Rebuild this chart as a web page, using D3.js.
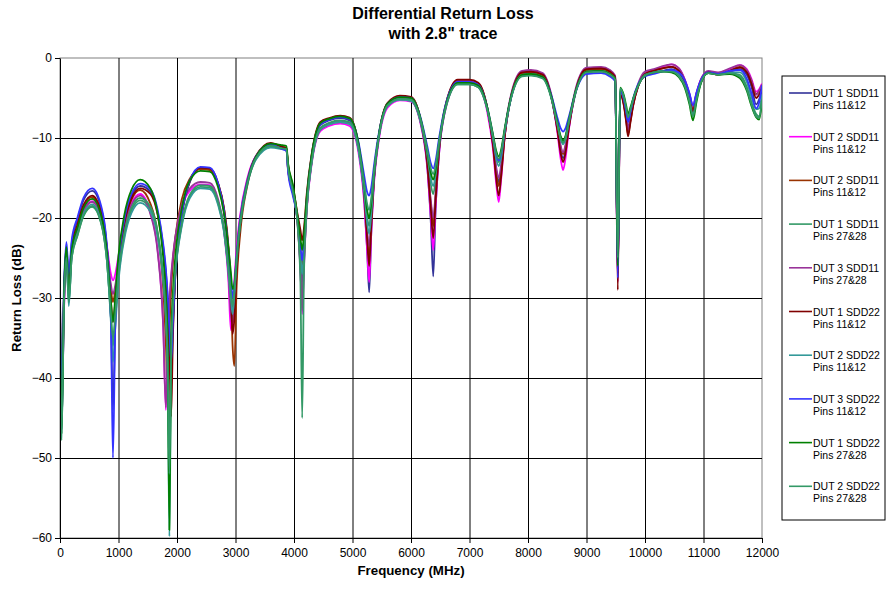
<!DOCTYPE html>
<html>
<head>
<meta charset="utf-8">
<script src="https://cdn.jsdelivr.net/npm/d3@7"></script>
<style>
  body { margin: 0; background: #fff; }
  svg { font-family: Arial, 'Liberation Sans', sans-serif; }
  .axis text { font-size: 12px; fill: #000; }
  .axis line, .axis path { stroke: #000; }
  .grid line { stroke: #000; stroke-width: 1; }
  .grid path { display: none; }
</style>
</head>
<body>
<div id="chart"></div>
<script>
const freqMHz = [
  0, 25, 70, 110, 150, 200, 300, 400, 550, 700, 800, 870, 905,
  945, 1000, 1100, 1220, 1370, 1545, 1670,
  1765, 1810, 1840, 1870, 1900, 1930, 1970, 2080,
  2220, 2400, 2560, 2700, 2800, 2880, 2920, 2950, 2980, 3020, 3080, 3200, 3350, 3600, 3800, 3870,
  3900, 3980, 4060, 4110, 4140,
  4170, 4220, 4300, 4450, 4600, 4790, 4950, 5100, 5200, 5250, 5285,
  5320, 5370, 5450, 5600, 5810, 6000, 6150, 6280, 6340, 6380,
  6420, 6480, 6600, 6800, 7000, 7150, 7300, 7400, 7460, 7500,
  7540, 7600, 7720, 7900, 8050, 8250, 8400, 8500, 8560, 8600,
  8640, 8700, 8820, 9000, 9250, 9400, 9490, 9535,
  9575, 9640, 9680, 9710, 9750, 9800, 9880, 10000,
  10150, 10300, 10450, 10580, 10680, 10760, 10820, 10880, 10960, 11080, 11250, 11450, 11620, 11740, 11820, 11900, 11950, 12000,
];

const dut1Sdd11Pins1112 = [
  -30, -44, -29, -23.5, -28, -23.2, -20.2, -17.8, -16.6, -18.7, -23.6, -32.6, -44,
  -33.2, -26.2, -20.5, -17.3, -16.0, -16.7, -19.3,
  -23.6, -26.8, -30.0, -34.9, -40, -33.7, -27.4, -19.8,
  -15.5, -13.8, -13.9, -15.8, -19.1, -24.5, -28.5, -33, -30.2, -25.2, -20.5, -15.5, -12.3, -10.8, -11.2, -11.4,
  -14.0, -16.6, -20.3, -25.0, -28,
  -24.4, -18.0, -12.6, -8.4, -7.8, -7.5, -7.8, -11.1, -17.6, -24.0, -29.3,
  -22.0, -15.1, -9.9, -5.8, -4.9, -5.05, -7.5, -13.7, -20.7, -27.3,
  -19.1, -11.9, -5.95, -3.0, -3.0, -3.4, -6.3, -10.6, -14.2, -15.5,
  -13.9, -9.8, -4.7, -2.0, -1.9, -2.28, -5.03, -8.87, -11.65, -12.5,
  -11.6, -8.7, -4.2, -1.7, -1.6, -2.0, -2.6, -27,
  -4.3, -5.6, -7.3, -8.8, -7.4, -5.6, -3.6, -2.2,
  -1.8, -1.6, -1.4, -1.9, -3.0, -4.7, -6.3, -4.6, -2.8, -1.8, -2.0, -1.7, -1.4, -2.1, -3.6, -5.8, -5.2, -4.0,
];

const dut2Sdd11Pins1112a = [
  -33, -46.5, -31, -25, -29, -24.5, -21.5, -19.1, -17.9, -19.7, -23.4, -27.0, -27.8,
  -27.0, -24.7, -20.9, -18.2, -17.0, -19.3, -24.1,
  -33.6, -44, -36.2, -30.8, -27.5, -25.1, -22.7, -18.7,
  -16.6, -15.8, -15.9, -17.9, -21.5, -28.0, -34.0, -32.4, -27.9, -23.7, -19.6, -15.1, -12.25, -11.0, -11.3, -11.4,
  -14.2, -16.9, -20.6, -26.5, -32,
  -26.2, -18.9, -13.4, -9.15, -8.5, -8.2, -8.5, -11.75, -18.1, -24.0, -28,
  -22.0, -15.45, -10.3, -6.2, -5.3, -5.45, -7.8, -13.9, -20.0, -24,
  -18.6, -11.95, -6.1, -3.2, -3.2, -3.6, -6.6, -11.3, -15.95, -18,
  -15.25, -10.0, -4.46, -1.7, -1.6, -1.98, -4.88, -9.16, -12.7, -14,
  -12.6, -8.9, -3.9, -1.3, -1.2, -1.6, -2.3, -28,
  -4.5, -5.8, -7.7, -9.3, -7.8, -5.8, -3.5, -1.9,
  -1.5, -1.1, -0.8, -1.3, -2.7, -4.5, -6.0, -4.4, -2.6, -1.7, -1.9, -1.4, -0.9, -1.4, -2.6, -4.2, -3.9, -3.2,
];

const dut2Sdd11Pins1112b = [
  -30, -44, -29.5, -24.5, -28.5, -23.8, -21.0, -18.6, -17.4, -19.35, -23.6, -28.9, -30.5,
  -29.0, -25.4, -20.7, -17.75, -16.5, -18.2, -22.0,
  -28.9, -35.8, -42, -34.2, -28.9, -25.5, -22.5, -17.7,
  -15.1, -13.9, -14.0, -15.7, -18.6, -23.5, -28.5, -35.9, -38.5, -28.4, -22.0, -16.0, -12.5, -10.7, -11.1, -11.3,
  -13.6, -16.2, -20.0, -24.0, -26,
  -23.3, -17.5, -12.35, -8.2, -7.6, -7.3, -7.55, -10.8, -17.0, -22.1, -25,
  -20.8, -14.8, -9.7, -5.7, -4.8, -4.95, -7.26, -13.15, -18.3, -21,
  -17.3, -11.4, -5.7, -2.8, -2.8, -3.2, -6.13, -10.6, -14.5, -16,
  -14.2, -9.8, -4.6, -1.9, -1.8, -2.17, -4.89, -8.6, -11.2, -12,
  -11.1, -8.4, -4.0, -1.5, -1.4, -1.8, -2.4, -27,
  -4.4, -5.9, -7.9, -9.5, -7.9, -5.8, -3.6, -2.0,
  -1.6, -1.3, -1.1, -1.6, -2.9, -4.8, -6.4, -4.6, -2.7, -1.8, -2.0, -1.6, -1.1, -1.6, -2.9, -4.5, -4.2, -3.5,
];

const dut1Sdd11Pins2728 = [
  -32, -47, -30, -24.5, -30.5, -25, -22.1, -19.7, -18.5, -20.5, -25.2, -32.4, -36,
  -32.7, -27.4, -22.2, -19.1, -17.8, -18.9, -22.1,
  -27.6, -32.3, -38.3, -50, -37.2, -31.3, -26.9, -20.9,
  -17.3, -16.1, -16.2, -18.1, -21.4, -26.6, -30.4, -33.0, -30.3, -25.5, -20.8, -15.8, -12.6, -11.1, -11.3, -11.5,
  -14.0, -16.8, -20.5, -26.0, -30,
  -25.4, -18.6, -13.2, -8.95, -8.3, -8.0, -8.25, -11.3, -16.6, -19.9, -21,
  -19.0, -14.5, -9.9, -5.96, -5.2, -5.35, -7.6, -12.6, -15.9, -17,
  -15.3, -11.2, -6.1, -3.3, -3.3, -3.67, -6.3, -9.9, -12.3, -13,
  -12.1, -9.2, -4.7, -2.2, -2.1, -2.46, -4.96, -8.1, -10.0, -10.5,
  -9.9, -7.9, -4.1, -1.8, -1.7, -2.1, -2.7, -25.5,
  -3.9, -5.0, -6.5, -7.6, -6.6, -5.2, -3.5, -2.1,
  -1.8, -1.6, -1.6, -2.1, -3.3, -5.2, -7.0, -5.0, -3.0, -1.9, -2.0, -1.9, -2.1, -3.6, -5.5, -7.0, -7.3, -5.0,
];

const dut3Sdd11Pins2728 = [
  -34, -45, -31, -25.5, -29.5, -24.6, -21.6, -19.2, -18.0, -19.9, -23.9, -28.3, -29.5,
  -28.4, -25.5, -21.2, -18.4, -17.2, -19.5, -24.3,
  -33.7, -43.7, -35.9, -30.5, -27.2, -24.8, -22.4, -18.4,
  -16.3, -15.5, -15.6, -17.6, -21.2, -27.2, -32.0, -33.5, -29.2, -24.4, -20.0, -15.3, -12.3, -10.9, -11.3, -11.4,
  -14.1, -16.8, -20.6, -26.5, -31.5,
  -25.8, -18.6, -13.1, -8.85, -8.2, -7.9, -8.15, -11.3, -17.25, -21.6, -23.5,
  -20.3, -14.9, -9.95, -6.0, -5.1, -5.25, -7.6, -13.25, -17.9, -20,
  -16.9, -11.4, -5.75, -2.9, -2.9, -3.3, -6.16, -10.4, -13.8, -15,
  -13.4, -9.35, -4.27, -1.6, -1.5, -1.88, -4.6, -8.34, -11.0, -11.8,
  -10.9, -8.1, -3.7, -1.2, -1.1, -1.5, -2.2, -27.5,
  -4.4, -5.7, -7.5, -9.0, -7.5, -5.5, -3.3, -1.7,
  -1.4, -1.0, -0.8, -1.3, -2.7, -4.5, -6.1, -4.4, -2.6, -1.6, -1.8, -1.3, -0.9, -1.5, -2.8, -4.6, -4.1, -3.3,
];

const dut1Sdd22Pins1112 = [
  -30, -44, -29, -24, -28, -23.8, -20.8, -18.4, -17.2, -19.2, -23.8, -30.3, -33,
  -30.5, -25.7, -20.7, -17.6, -16.3, -17.0, -19.6,
  -24.0, -27.3, -30.8, -36.8, -44.8, -34.8, -27.5, -19.7,
  -15.4, -13.7, -13.8, -15.6, -18.7, -24.0, -28.8, -34.5, -32.7, -26.5, -21.0, -15.6, -12.25, -10.6, -11.1, -11.3,
  -13.4, -16.0, -19.5, -21.5, -22.8,
  -21.3, -16.8, -12.1, -8.0, -7.5, -7.2, -7.45, -10.7, -17.0, -22.6, -26,
  -21.0, -14.8, -9.7, -5.6, -4.7, -4.85, -7.27, -13.3, -19.0, -22.5,
  -17.8, -11.4, -5.6, -2.7, -2.7, -3.1, -6.1, -10.8, -15.3, -17.2,
  -14.9, -9.95, -4.53, -1.8, -1.7, -2.08, -4.9, -8.9, -12.0, -13,
  -11.9, -8.65, -4.0, -1.4, -1.3, -1.7, -2.4, -29,
  -4.6, -6.0, -8.1, -9.8, -8.1, -5.9, -3.6, -2.0,
  -1.6, -1.3, -1.1, -1.6, -3.0, -5.0, -6.7, -4.8, -2.8, -1.8, -2.1, -1.6, -1.2, -1.8, -3.2, -5.0, -4.6, -3.8,
];

const dut2Sdd22Pins1112 = [
  -31, -47.5, -30, -24.5, -31, -24.8, -21.9, -19.5, -18.3, -20.4, -25.1, -33.0, -38,
  -33.7, -27.9, -22.6, -19.4, -18.1, -19.2, -22.4,
  -27.9, -32.6, -38.6, -59.8, -37.4, -31.5, -27.1, -21.1,
  -17.5, -16.3, -16.4, -18.3, -21.6, -26.8, -30.0, -32.0, -29.8, -25.4, -20.8, -15.9, -12.7, -11.2, -11.4, -11.5,
  -14.0, -16.7, -20.2, -24.5, -27,
  -24.1, -18.3, -13.1, -8.9, -8.3, -8.0, -8.25, -11.4, -16.9, -20.6, -22,
  -19.55, -14.7, -9.9, -6.0, -5.2, -5.35, -7.55, -12.2, -15.1, -16,
  -14.6, -10.9, -5.9, -3.2, -3.2, -3.6, -6.3, -10.0, -12.7, -13.5,
  -12.5, -9.3, -4.66, -2.1, -2.0, -2.37, -4.9, -8.2, -10.2, -10.8,
  -10.2, -8.0, -4.1, -1.7, -1.6, -2.0, -2.6, -26,
  -3.9, -5.1, -6.6, -7.8, -6.7, -5.2, -3.5, -2.1,
  -1.8, -1.6, -1.6, -2.2, -3.4, -5.3, -7.2, -5.1, -3.0, -1.9, -2.0, -1.8, -1.8, -3.0, -4.9, -6.4, -6.3, -4.6,
];

const dut3Sdd22Pins1112 = [
  -29, -42, -28, -23, -27, -22.8, -19.9, -17.5, -16.3, -18.4, -23.3, -32.5, -50,
  -33.3, -25.9, -20.2, -17.0, -15.7, -16.4, -19.0,
  -23.3, -26.4, -29.5, -34.0, -38, -33.0, -27.0, -19.6,
  -15.3, -13.6, -13.7, -15.6, -18.9, -24.0, -27.6, -30.0, -28.3, -24.6, -20.2, -15.5, -12.3, -10.8, -11.4, -11.6,
  -14.3, -17.2, -20.0, -23.5, -25.3,
  -22.9, -17.5, -12.4, -8.3, -7.7, -7.4, -7.6, -10.4, -14.7, -16.75, -17.2,
  -16.2, -13.3, -9.4, -5.74, -4.9, -5.0, -7.1, -11.1, -13.2, -13.8,
  -12.9, -10.0, -5.6, -3.0, -3.0, -3.35, -6.05, -9.6, -12.1, -12.8,
  -11.9, -9.1, -4.7, -2.2, -2.1, -2.43, -4.7, -7.4, -8.8, -9.2,
  -8.8, -7.3, -4.1, -2.0, -1.9, -2.3, -2.9, -27.5,
  -4.1, -5.2, -6.8, -8.0, -6.8, -5.0, -3.3, -2.3,
  -2.0, -1.7, -1.5, -1.8, -2.8, -4.4, -5.9, -4.3, -2.7, -1.8, -2.0, -1.6, -1.5, -2.6, -4.4, -6.3, -5.6, -3.4,
];

const dut1Sdd22Pins2728 = [
  -31, -47, -29, -23.6, -29.5, -24, -21.2, -18.8, -17.6, -19.6, -24.1, -30.5, -33,
  -29.9, -24.7, -19.6, -16.5, -15.2, -16.3, -19.5,
  -25.0, -29.7, -35.7, -59, -35.2, -29.3, -24.9, -18.9,
  -15.3, -14.1, -14.2, -16.1, -19.3, -23.8, -26.7, -28.9, -28.3, -25.0, -20.6, -15.7, -12.35, -10.7, -10.9, -11.0,
  -13.2, -15.8, -19.8, -22.5, -24,
  -22.1, -17.2, -12.25, -8.15, -7.6, -7.3, -7.55, -10.6, -15.8, -19.0, -20,
  -18.2, -14.15, -9.6, -5.7, -4.9, -5.0, -7.2, -11.7, -14.4, -15.2,
  -14.0, -10.6, -5.8, -3.1, -3.1, -3.45, -6.07, -9.5, -11.7, -12.3,
  -11.5, -8.85, -4.57, -2.1, -2.0, -2.35, -4.84, -7.94, -9.8, -10.3,
  -9.75, -7.75, -4.0, -1.7, -1.6, -2.0, -2.6, -26,
  -3.7, -4.7, -6.0, -7.0, -6.2, -5.0, -3.5, -2.2,
  -1.8, -1.7, -1.8, -2.4, -3.7, -5.8, -7.8, -5.5, -3.1, -1.9, -2.1, -2.0, -2.5, -4.1, -6.0, -7.4, -7.7, -5.5,
];

const dut2Sdd22Pins2728 = [
  -32, -47.8, -30, -25, -30.5, -25, -22.2, -19.8, -18.6, -20.6, -25.2, -32.0, -35,
  -32.1, -27.0, -21.9, -18.8, -17.5, -18.6, -21.8,
  -27.3, -32.0, -38.0, -52, -37.0, -31.1, -26.7, -20.7,
  -17.1, -15.9, -16.0, -17.9, -21.1, -26.3, -29.3, -31.0, -29.1, -25.0, -20.6, -15.7, -12.5, -11.0, -11.3, -11.4,
  -13.8, -16.6, -20.8, -28.0, -45,
  -27.1, -18.7, -13.05, -8.75, -8.1, -7.8, -8.0, -10.95, -15.75, -18.25, -19,
  -17.6, -14.0, -9.75, -5.9, -5.1, -5.2, -7.34, -11.55, -13.85, -14.5,
  -13.5, -10.5, -5.95, -3.3, -3.3, -3.65, -6.28, -9.7, -12.0, -12.6,
  -11.8, -9.1, -4.78, -2.3, -2.2, -2.56, -5.06, -8.2, -10.1, -10.6,
  -10.0, -7.9, -4.15, -1.8, -1.7, -2.1, -2.7, -25,
  -3.8, -4.9, -6.3, -7.4, -6.5, -5.1, -3.5, -2.2,
  -1.8, -1.7, -1.7, -2.3, -3.5, -5.5, -7.3, -5.2, -3.0, -1.9, -2.1, -1.9, -2.3, -3.9, -5.8, -7.3, -7.5, -5.2,
];

const seriesLabels = [
  ['DUT 1 SDD11', 'Pins 11&12'],
  ['DUT 2 SDD11', 'Pins 11&12'],
  ['DUT 2 SDD11', 'Pins 11&12'],
  ['DUT 1 SDD11', 'Pins 27&28'],
  ['DUT 3 SDD11', 'Pins 27&28'],
  ['DUT 1 SDD22', 'Pins 11&12'],
  ['DUT 2 SDD22', 'Pins 11&12'],
  ['DUT 3 SDD22', 'Pins 11&12'],
  ['DUT 1 SDD22', 'Pins 27&28'],
  ['DUT 2 SDD22', 'Pins 27&28'],
];
const seriesValues = [
  dut1Sdd11Pins1112, dut2Sdd11Pins1112a, dut2Sdd11Pins1112b, dut1Sdd11Pins2728, dut3Sdd11Pins2728,
  dut1Sdd22Pins1112, dut2Sdd22Pins1112, dut3Sdd22Pins1112, dut1Sdd22Pins2728, dut2Sdd22Pins2728,
];
const xTicks = [0, 1000, 2000, 3000, 4000, 5000, 6000, 7000, 8000, 9000, 10000, 11000, 12000];
const yTicks = [-60, -50, -40, -30, -20, -10, 0];

class ReturnLossChart {
  constructor(_config, data) {
    this.config = {
      parentElement: _config.parentElement,
      containerWidth: 886,
      containerHeight: 590,
      margin: { top: 58, right: 124, bottom: 52, left: 60 },
      colors: ['#333399', '#ff00ff', '#993300', '#339966', '#993399',
        '#800000', '#339999', '#3333ff', '#008000', '#339966'],
    };
    this.data = data;
    this.initVis();
  }

  initVis() {
    const vis = this;
    vis.width = vis.config.containerWidth - vis.config.margin.left - vis.config.margin.right;
    vis.height = vis.config.containerHeight - vis.config.margin.top - vis.config.margin.bottom;

    vis.svg = d3.select(vis.config.parentElement)
      .append('svg')
      .attr('width', vis.config.containerWidth)
      .attr('height', vis.config.containerHeight);

    vis.svg.append('rect')
      .attr('width', vis.config.containerWidth)
      .attr('height', vis.config.containerHeight)
      .attr('fill', '#fff');

    vis.chartArea = vis.svg.append('g')
      .attr('transform', `translate(${vis.config.margin.left},${vis.config.margin.top})`);

    vis.svg.append('defs').append('clipPath')
      .attr('id', 'plot-clip')
      .append('rect')
      .attr('width', vis.width)
      .attr('height', vis.height);

    vis.xScale = d3.scaleLinear().domain([0, 12000]).range([0, vis.width]);
    vis.yScale = d3.scaleLinear().domain([-60, 0]).range([vis.height, 0]);

    // title
    const title = vis.svg.append('text')
      .attr('text-anchor', 'middle')
      .style('font-size', '16px')
      .style('font-weight', 'bold');
    title.append('tspan').attr('x', 443).attr('y', 19).text('Differential Return Loss');
    title.append('tspan').attr('x', 443).attr('y', 39).text('with 2.8" trace');

    vis.svg.append('text')
      .attr('x', vis.config.margin.left + vis.width / 2)
      .attr('y', 575)
      .attr('text-anchor', 'middle')
      .style('font-size', '13.3px')
      .style('font-weight', 'bold')
      .text('Frequency (MHz)');

    vis.svg.append('text')
      .attr('transform', `translate(21,${vis.config.margin.top + vis.height / 2}) rotate(-90)`)
      .attr('text-anchor', 'middle')
      .style('font-size', '13.3px')
      .style('font-weight', 'bold')
      .text('Return Loss (dB)');

    vis.updateVis();
  }

  updateVis() {
    const vis = this;
    vis.series = vis.data.values.map((vals, i) => ({
      label: vis.data.labels[i],
      color: vis.config.colors[i],
      points: vis.data.freq.map((f, j) => ({ f, v: vals[j] })),
    }));
    vis.line = d3.line()
      .defined((d) => d.v !== undefined)
      .x((d) => vis.xScale(d.f))
      .y((d) => vis.yScale(d.v))
      .curve(d3.curveMonotoneX);
    vis.renderVis();
  }

  renderVis() {
    const vis = this;

    vis.chartArea.append('rect')
      .attr('width', vis.width)
      .attr('height', vis.height)
      .attr('fill', 'none')
      .attr('stroke', '#808080');

    vis.chartArea.append('g')
      .attr('class', 'grid')
      .call(d3.axisLeft(vis.yScale).tickValues(yTicks.filter((t) => t > -60 && t < 0))
        .tickSize(-vis.width).tickFormat(''));

    vis.chartArea.append('g')
      .attr('class', 'grid')
      .attr('transform', `translate(0,${vis.height})`)
      .call(d3.axisBottom(vis.xScale).tickValues(xTicks.filter((t) => t > 0 && t < 12000))
        .tickSize(-vis.height).tickFormat(''));

    vis.chartArea.append('g')
      .attr('clip-path', 'url(#plot-clip)')
      .selectAll('.series')
      .data(vis.series)
      .join('path')
      .attr('class', 'series')
      .attr('fill', 'none')
      .attr('stroke', (d) => d.color)
      .attr('stroke-width', 1.8)
      .attr('stroke-linejoin', 'round')
      .attr('d', (d) => vis.line(d.points));

    vis.chartArea.append('g')
      .attr('class', 'axis y-axis')
      .call(d3.axisLeft(vis.yScale).tickValues(yTicks).tickSize(5).tickPadding(3).tickSizeOuter(0));

    vis.chartArea.append('g')
      .attr('class', 'axis x-axis')
      .attr('transform', `translate(0,${vis.height})`)
      .call(d3.axisBottom(vis.xScale).tickValues(xTicks).tickFormat(d3.format('d'))
        .tickSize(5).tickPadding(5).tickSizeOuter(0));

    vis.chartArea.selectAll('.axis text').style('font-family', 'Arial, "Liberation Sans", sans-serif');

    // legend
    const legend = vis.svg.append('g').attr('transform', 'translate(782,76)');
    legend.append('rect')
      .attr('width', 103)
      .attr('height', 444)
      .attr('fill', '#fff')
      .attr('stroke', '#000');

    const items = legend.selectAll('.legend-item')
      .data(vis.series)
      .join('g')
      .attr('class', 'legend-item')
      .attr('transform', (d, i) => `translate(0,${17 + i * 43.7})`);

    items.append('line')
      .attr('x1', 7)
      .attr('x2', 30)
      .attr('stroke', (d) => d.color)
      .attr('stroke-width', 1.6);

    items.append('text')
      .attr('x', 31)
      .attr('y', 4)
      .style('font-size', '10.5px')
      .text((d) => d.label[0]);

    items.append('text')
      .attr('x', 31)
      .attr('y', 16)
      .style('font-size', '10.5px')
      .text((d) => d.label[1]);
  }
}

const chart = new ReturnLossChart({ parentElement: '#chart' }, {
  freq: freqMHz,
  values: seriesValues,
  labels: seriesLabels,
});
</script>
</body>
</html>
